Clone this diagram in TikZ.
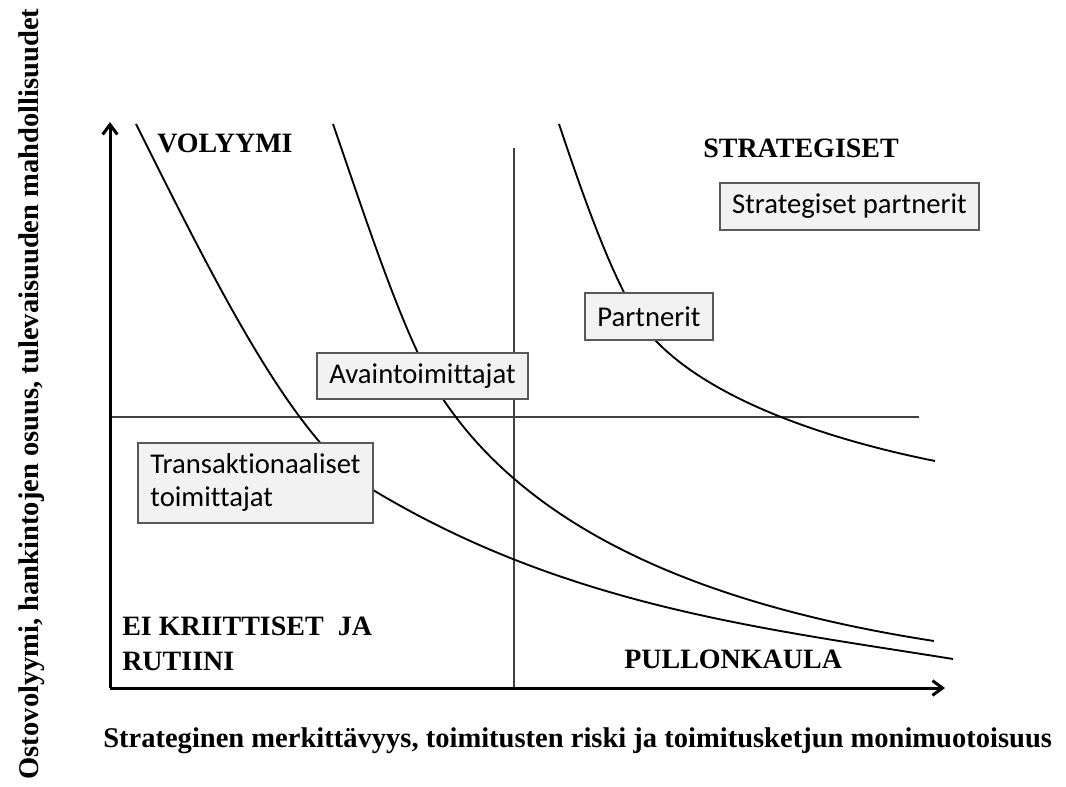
\documentclass[tikz,border=0pt]{standalone}
\usepackage{fontspec}
\setmainfont{Liberation Serif}
\newfontfamily\boxfont[Ligatures=NoCommon]{Carlito}
\usetikzlibrary{arrows.meta}
\definecolor{boxfill}{HTML}{F2F2F2}
\definecolor{boxline}{HTML}{595959}
\definecolor{divline}{HTML}{404040}
\tikzset{
  axis/.style={line width=2.25pt, -{Straight Barb[length=7.5pt, width=11pt]}},
  divider/.style={draw=divline, line width=0.8pt},
  curve/.style={line width=1.4pt},
  box/.style={draw=boxline, line width=1.1pt, fill=boxfill, inner xsep=9pt, inner ysep=0pt,
    font=\boxfont\fontsize{21.5pt}{24.75pt}\selectfont},
  quad/.style={inner sep=0pt, font=\bfseries\fontsize{21pt}{26.25pt}\selectfont},
  axislabel/.style={inner sep=0pt, font=\bfseries\fontsize{21.4pt}{25pt}\selectfont},
}
\begin{document}
\begin{tikzpicture}[x=0.75pt, y=-0.75pt]
	\useasboundingbox (0,0) rectangle (1066,787);

	% axes
	\coordinate (O) at (110,688);
	\coordinate (ytip) at (110,122);
	\coordinate (xtip) at (945,688);
	\draw [divider] (514,148) -- (514,688);
	\draw [divider] (O |- 0,417) -- (919,417);
	\draw [axis] (O) -- (ytip);
	\draw [axis] (O) -- (xtip);

	% curves
	\draw [curve] (136,124) .. controls (215,282) and (294,442.6) .. (373,490)
		.. controls (566,606) and (760,628) .. (953,659);
	\draw [curve] (333,124) .. controls (369.7,230.3) and (406.3,344) .. (443,399)
		.. controls (540,544.5) and (734,610) .. (934,641);
	\draw [curve] (559,124) .. controls (591,220) and (623,306.4) .. (655,340)
		.. controls (715,403) and (835,441) .. (935,461);

	% boxes
	\node[box, minimum width=176.25pt, minimum height=60pt, align=left] (trans) at (255.5,483) {Transaktionaaliset\\toimittajat};
	\node[box, minimum width=158.25pt, minimum height=34.5pt] (avain) at (422.5,376) {Avaintoimittajat};
	\node[box, minimum width=96pt, minimum height=35.25pt] (partner) at (649,316.5) {Partnerit};
	\node[box, minimum width=194.25pt, minimum height=35.25pt] (strpartner) at (849.5,206.5) {Strategiset partnerit};

	% quadrant labels
	\node[quad, anchor=base west] (vol) at (157,153) {VOLYYMI};
	\node[quad, anchor=base west] (strat) at (703,158) {STRATEGISET};
	\node[quad, anchor=north west, align=left] (eikr) at (122,617) {EI KRIITTISET\ \ JA\\RUTIINI};
	\node[quad, anchor=base west] (pullo) at (624,668) {PULLONKAULA};

	% axis labels
	\node[axislabel, anchor=base west] (xlab) at (103,747) {Strateginen merkittävyys, toimitusten riski ja toimitusketjun monimuotoisuus};
	\node[axislabel, anchor=base, rotate=90] (ylab) at (38,394) {Ostovolyymi, hankintojen osuus, tulevaisuuden mahdollisuudet};
\end{tikzpicture}
\end{document}
